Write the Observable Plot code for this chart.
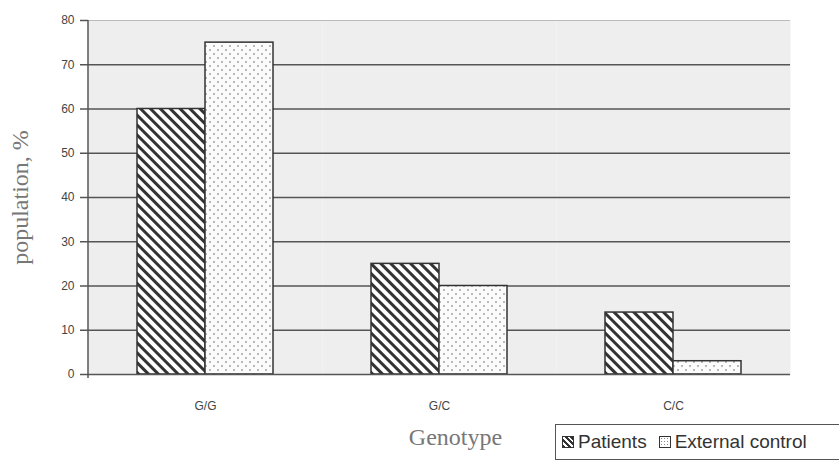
<!DOCTYPE html>
<html>
<head>
<meta charset="utf-8">
<script src="https://cdn.jsdelivr.net/npm/d3@7"></script>
<script src="https://cdn.jsdelivr.net/npm/@observablehq/plot@0.6"></script>
<style>
  body { margin: 0; background: #fff; }
  #wrap { position: relative; width: 839px; height: 462px; overflow: hidden; }
  #wrap svg { font-family: "Liberation Sans Narrow", "Liberation Sans", Arial, sans-serif; }
  g[aria-label="y-axis label"] text, g[aria-label="fx-axis label"] text {
    font-family: "Liberation Serif", "DejaVu Serif", serif; font-size: 24px; fill: #777;
  }
  g[aria-label="y-axis tick label"] text, g[aria-label="fx-axis tick label"] text { fill: #444; }
  #legend {
    position: absolute; left: 555px; top: 424px; width: 290px; height: 36px;
    border: 1px solid #555; box-sizing: border-box; background: #fff;
    font-family: "Liberation Sans Narrow", "Liberation Sans", Arial, sans-serif; font-size: 19px; color: #333;
    display: flex; align-items: center; padding-left: 6px; white-space: nowrap;
  }
  .sw { width: 12px; height: 12px; border: 1.5px solid #333; box-sizing: border-box; margin-right: 4px; display: inline-block; }
  .item { display: flex; align-items: center; margin-right: 12px; }
</style>
</head>
<body>
<div id="wrap"></div>
<script>
const genotypes = ["G/G", "G/C", "C/C"];
const groups = ["Patients", "External control"];
const patients = [60, 25, 14];
const control = [75, 20, 3];
const yTicks = [0, 10, 20, 30, 40, 50, 60, 70, 80];

const data = [];
genotypes.forEach((g, i) => {
  data.push({genotype: g, group: groups[0], value: patients[i]});
  data.push({genotype: g, group: groups[1], value: control[i]});
});

const chart = Plot.plot({
  width: 839,
  height: 462,
  marginLeft: 88,
  marginRight: 49,
  marginTop: 20,
  marginBottom: 88,
  style: {fontSize: "12px", background: "white"},
  fx: {domain: genotypes, padding: 0, label: "Genotype"},
  x: {domain: groups, paddingInner: 0, paddingOuter: 0.71, axis: null},
  y: {domain: [0, 80], label: "population, %"},
  marks: [
    Plot.frame({fill: "#eeeeee", stroke: null}),
    Plot.ruleY(yTicks.filter(t => t > 0 && t < 80), {stroke: "#555", strokeWidth: 1.5}),
    Plot.ruleY([80], {stroke: "#bbb", strokeWidth: 1}),
    Plot.barY(data.filter(d => d.group === groups[0]), {fx: "genotype", x: "group", y: "value", fill: "url(#hatch)", stroke: "#333", strokeWidth: 1.5}),
    Plot.barY(data.filter(d => d.group === groups[1]), {fx: "genotype", x: "group", y: "value", fill: "url(#dots)", stroke: "#333", strokeWidth: 1.5}),
    Plot.ruleY([0], {stroke: "#555", strokeWidth: 1.5}),
    Plot.axisY({ticks: yTicks, tickSize: 8, tickPadding: 6, label: "population, %", labelArrow: false, labelAnchor: "center", labelOffset: 78, stroke: "#555", strokeWidth: 1.5}),
    Plot.axisFx({anchor: "bottom", tickSize: 0, tickPadding: 27, label: "Genotype", labelArrow: false, labelAnchor: "center", labelOffset: 70})
  ]
});

// patterns
const ns = "http://www.w3.org/2000/svg";
const defs = document.createElementNS(ns, "defs");
defs.innerHTML = `
  <pattern id="hatch" width="7" height="7" patternUnits="userSpaceOnUse" patternTransform="rotate(-45)">
    <rect width="7" height="7" fill="#fff"/>
    <line x1="1.5" y1="0" x2="1.5" y2="7" stroke="#333" stroke-width="3"/>
  </pattern>
  <pattern id="dots" width="8" height="8" patternUnits="userSpaceOnUse">
    <rect width="8" height="8" fill="#fbfbfb"/>
    <circle cx="2" cy="2" r="0.9" fill="#999"/>
    <circle cx="6" cy="6" r="0.9" fill="#999"/>
  </pattern>`;
chart.insertBefore(defs, chart.firstChild);

// strip any arrow the label might carry
chart.querySelectorAll('g[aria-label$="axis label"] text').forEach(t => {
  t.textContent = t.textContent.replace(/\s*[→↑↓←]\s*/g, "").trim();
});
// nudge the Genotype title right, as in the original
const fxLabel = chart.querySelector('g[aria-label="fx-axis label"]');
if (fxLabel) fxLabel.setAttribute("transform", ((fxLabel.getAttribute("transform") || "") + " translate(16,0)").trim());

const wrap = document.getElementById("wrap");
wrap.appendChild(chart);
const axisLine = document.createElementNS(ns, "line");
const ys = chart.scale("y");
axisLine.setAttribute("x1", 88); axisLine.setAttribute("x2", 88);
axisLine.setAttribute("y1", ys.apply(80)); axisLine.setAttribute("y2", ys.apply(0) + 4);
axisLine.setAttribute("stroke", "#555"); axisLine.setAttribute("stroke-width", 1.5);
chart.appendChild(axisLine);

const legend = document.createElement("div");
legend.id = "legend";
legend.innerHTML = groups.map((g, i) => {
  const bg = i === 0
    ? "repeating-linear-gradient(45deg,#333 0 2px,#fff 2px 4px)"
    : "radial-gradient(#888 20%, #fff 25%) 0 0/3px 3px";
  return `<span class="item"><span class="sw" style="background:${bg}"></span>${g}</span>`;
}).join("");
wrap.appendChild(legend);
</script>
</body>
</html>
